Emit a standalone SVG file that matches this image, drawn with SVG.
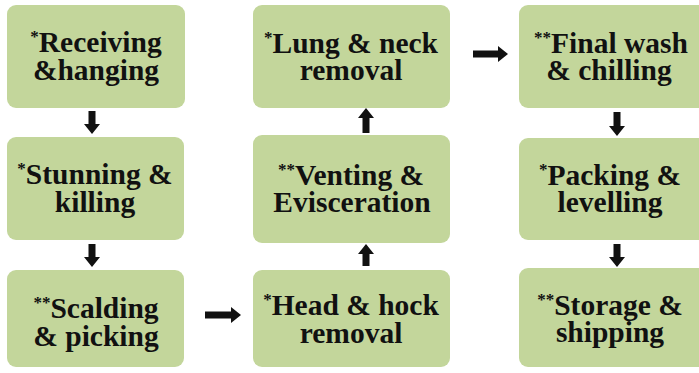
<svg xmlns="http://www.w3.org/2000/svg" width="699" height="373" viewBox="0 0 699 373">
<style>
.box{fill:#c3d69b;}
.t{font-family:"Liberation Serif","Times New Roman",serif;font-weight:bold;font-size:29.5px;fill:#111;text-anchor:middle;}
.s{font-size:17px;}
.arr{fill:#111;}
</style>
<rect width="699" height="373" fill="#ffffff"/>
<g id="connectors">
<polygon class="arr" points="88.5,111 95.5,111 95.5,124 100,124 92,134 84,124 88.5,124"/>
<polygon class="arr" points="88.5,244 95.5,244 95.5,257 100,257 92,267 84,257 88.5,257"/>
<polygon class="arr" points="205,311.5 231,311.5 231,307 241,315 231,323 231,318.5 205,318.5"/>
<polygon class="arr" points="362.5,266 369.5,266 369.5,254 374,254 366,244 358,254 362.5,254"/>
<polygon class="arr" points="362.5,133 369.5,133 369.5,118 374,118 366,108 358,118 362.5,118"/>
<polygon class="arr" points="473,50.5 498,50.5 498,46 508,54 498,62 498,57.5 473,57.5"/>
<polygon class="arr" points="613.5,112 620.5,112 620.5,126 625,126 617,136 609,126 613.5,126"/>
<polygon class="arr" points="613.5,244 620.5,244 620.5,257 625,257 617,267 609,257 613.5,257"/>
</g>
<g id="n1"><rect class="box" x="7" y="5" width="178" height="103" rx="9"/>
<text class="t" x="96" y="52"><tspan class="s" dy="-10">*</tspan><tspan dy="10">Receiving</tspan><tspan x="96" dy="28">&amp;hanging</tspan></text></g>
<g id="n2"><rect class="box" x="7" y="137" width="177" height="103" rx="9"/>
<text class="t" x="95" y="184"><tspan class="s" dy="-10">*</tspan><tspan dy="10">Stunning &amp;</tspan><tspan x="95" dy="28">killing</tspan></text></g>
<g id="n3"><rect class="box" x="7" y="270" width="177" height="97" rx="9"/>
<text class="t" x="96" y="318"><tspan class="s" dy="-10">**</tspan><tspan dy="10">Scalding</tspan><tspan x="96" dy="28">&amp; picking</tspan></text></g>
<g id="n4"><rect class="box" x="253" y="270" width="197" height="97" rx="9"/>
<text class="t" x="351" y="315"><tspan class="s" dy="-10">*</tspan><tspan dy="10">Head &amp; hock</tspan><tspan x="351" dy="28">removal</tspan></text></g>
<g id="n5"><rect class="box" x="253" y="135" width="197" height="108" rx="9"/>
<text class="t" x="351" y="185"><tspan class="s" dy="-10">**</tspan><tspan dy="10">Venting &amp;</tspan><tspan x="352" dy="27">Evisceration</tspan></text></g>
<g id="n6"><rect class="box" x="253" y="5" width="197" height="103" rx="9"/>
<text class="t" x="351" y="53"><tspan class="s" dy="-10">*</tspan><tspan dy="10">Lung &amp; neck</tspan><tspan x="351" dy="27">removal</tspan></text></g>
<g id="n7"><rect class="box" x="519" y="5" width="190" height="103" rx="9"/>
<text class="t" x="611" y="53"><tspan class="s" dy="-10">**</tspan><tspan dy="10">Final wash</tspan><tspan x="609" dy="27">&amp; chilling</tspan></text></g>
<g id="n8"><rect class="box" x="519" y="138" width="190" height="102" rx="9"/>
<text class="t" x="610" y="185"><tspan class="s" dy="-10">*</tspan><tspan dy="10">Packing &amp;</tspan><tspan x="610" dy="27">levelling</tspan></text></g>
<g id="n9"><rect class="box" x="519" y="268" width="190" height="99" rx="9"/>
<text class="t" x="610" y="315"><tspan class="s" dy="-10">**</tspan><tspan dy="10">Storage &amp;</tspan><tspan x="610" dy="27">shipping</tspan></text></g>
</svg>
